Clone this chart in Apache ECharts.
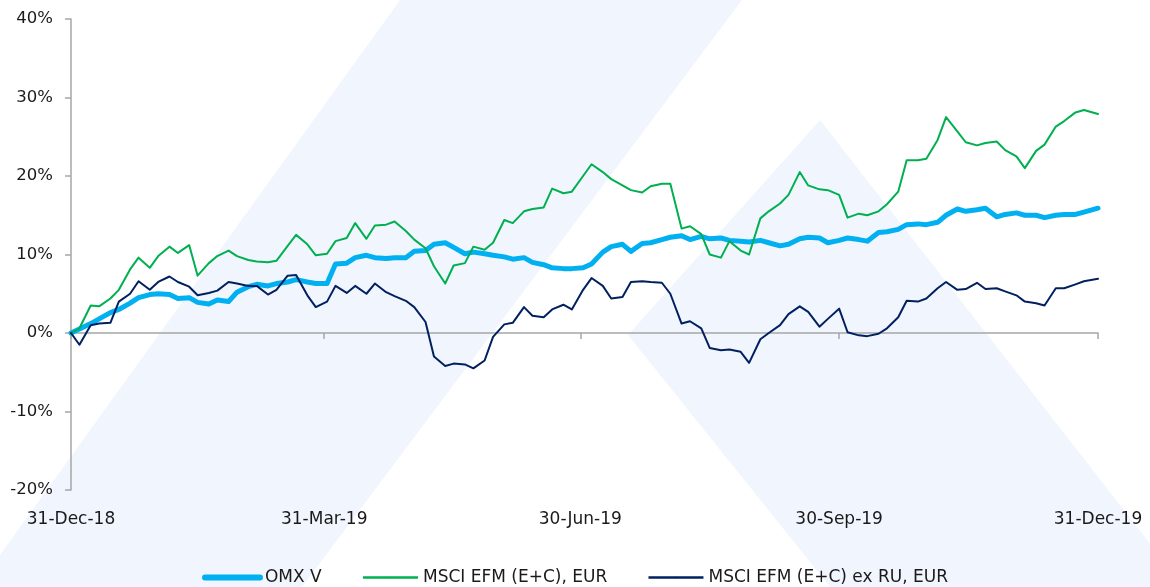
<!DOCTYPE html>
<html>
<head>
<meta charset="utf-8">
<title>OMX V vs MSCI EFM</title>
<script src="https://cdn.jsdelivr.net/npm/echarts@6/dist/echarts.min.js"></script>
<style>
  html, body { margin: 0; padding: 0; background: #fff; }
  #chart { width: 1150px; height: 587px; }
</style>
</head>
<body>
<div id="chart"></div>
<script>
// Observation dates (every 3-4 days through 2019)
const dates = [
  '2018-12-31','2019-01-03','2019-01-07','2019-01-10','2019-01-14','2019-01-17','2019-01-21','2019-01-24','2019-01-28','2019-01-31',
  '2019-02-04','2019-02-07','2019-02-11','2019-02-14','2019-02-18','2019-02-21','2019-02-25','2019-02-28','2019-03-04','2019-03-07',
  '2019-03-11','2019-03-14','2019-03-18','2019-03-21','2019-03-25','2019-03-28','2019-04-01','2019-04-04','2019-04-08','2019-04-11',
  '2019-04-15','2019-04-18','2019-04-22','2019-04-25','2019-04-29','2019-05-02','2019-05-06','2019-05-09','2019-05-13','2019-05-16',
  '2019-05-20','2019-05-23','2019-05-27','2019-05-30','2019-06-03','2019-06-06','2019-06-10','2019-06-13','2019-06-17','2019-06-20',
  '2019-06-24','2019-06-27','2019-07-01','2019-07-04','2019-07-08','2019-07-11','2019-07-15','2019-07-18','2019-07-22','2019-07-25',
  '2019-07-29','2019-08-01','2019-08-05','2019-08-08','2019-08-12','2019-08-15','2019-08-19','2019-08-22','2019-08-26','2019-08-29',
  '2019-09-02','2019-09-05','2019-09-09','2019-09-12','2019-09-16','2019-09-19','2019-09-23','2019-09-26','2019-09-30','2019-10-03',
  '2019-10-07','2019-10-10','2019-10-14','2019-10-17','2019-10-21','2019-10-24','2019-10-28','2019-10-31','2019-11-04','2019-11-07',
  '2019-11-11','2019-11-14','2019-11-18','2019-11-21','2019-11-25','2019-11-28','2019-12-02','2019-12-05','2019-12-09','2019-12-12',
  '2019-12-16','2019-12-19','2019-12-23','2019-12-26','2019-12-31'
];

// Cumulative return, %
const omxV = [
  0, 0.5, 1.2, 1.8, 2.6, 3.0, 3.8, 4.5, 4.9, 5.0,
  4.9, 4.4, 4.5, 3.9, 3.7, 4.2, 4.0, 5.2, 5.9, 6.2,
  6.0, 6.3, 6.5, 6.8, 6.5, 6.3, 6.3, 8.8, 8.9, 9.6,
  9.9, 9.6, 9.5, 9.6, 9.6, 10.4, 10.5, 11.3, 11.5, 10.9,
  10.1, 10.3, 10.1, 9.9, 9.7, 9.4, 9.6, 9.0, 8.7, 8.3,
  8.2, 8.2, 8.3, 8.8, 10.3, 11.0, 11.3, 10.4, 11.4, 11.5,
  11.9, 12.2, 12.4, 11.9, 12.3, 12.0, 12.1, 11.8, 11.7, 11.6,
  11.8, 11.5, 11.1, 11.3, 12.0, 12.2, 12.1, 11.5, 11.8, 12.1,
  11.9, 11.7, 12.8, 12.9, 13.2, 13.8, 13.9, 13.8, 14.1, 15.0,
  15.8, 15.5, 15.7, 15.9, 14.8, 15.1, 15.3, 15.0, 15.0, 14.7,
  15.0, 15.1, 15.1, 15.4, 15.9
];

const msciEfm = [
  0, 0.6, 3.5, 3.4, 4.4, 5.5, 8.1, 9.6, 8.3, 9.8,
  11.0, 10.2, 11.2, 7.3, 8.9, 9.8, 10.5, 9.8, 9.3, 9.1,
  9.0, 9.2, 11.1, 12.5, 11.3, 9.9, 10.1, 11.7, 12.1, 14.0,
  12.0, 13.7, 13.8, 14.2, 13.0, 11.9, 10.8, 8.5, 6.3, 8.6,
  8.9, 11.0, 10.6, 11.5, 14.4, 14.0, 15.5, 15.8, 16.0, 18.4,
  17.8, 18.0, 20.0, 21.5, 20.5, 19.6, 18.8, 18.2, 17.9, 18.7,
  19.0, 19.0, 13.3, 13.6, 12.6, 10.0, 9.6, 11.7, 10.5, 10.0,
  14.6, 15.5, 16.5, 17.6, 20.5, 18.8, 18.3, 18.2, 17.6, 14.7,
  15.2, 15.0, 15.5, 16.4, 18.0, 22.0, 22.0, 22.2, 24.6, 27.5,
  25.7, 24.3, 23.9, 24.2, 24.4, 23.3, 22.5, 21.0, 23.2, 24.0,
  26.3, 27.0, 28.1, 28.4, 27.9
];

const msciEfmExRu = [
  0, -1.5, 1.0, 1.2, 1.3, 4.0, 5.0, 6.6, 5.5, 6.5,
  7.2, 6.5, 5.9, 4.8, 5.1, 5.4, 6.5, 6.3, 6.0, 6.0,
  4.9, 5.5, 7.3, 7.4, 4.8, 3.3, 4.0, 6.0, 5.1, 6.0,
  5.0, 6.3, 5.2, 4.7, 4.1, 3.3, 1.4, -3.0, -4.2, -3.9,
  -4.0, -4.5, -3.5, -0.5, 1.1, 1.3, 3.3, 2.2, 2.0, 3.0,
  3.6, 3.0, 5.5, 7.0, 6.0, 4.4, 4.6, 6.5, 6.6, 6.5,
  6.4, 5.0, 1.2, 1.5, 0.6, -1.9, -2.2, -2.1, -2.4, -3.8,
  -0.8, 0.0, 1.0, 2.4, 3.4, 2.7, 0.8, 1.8, 3.1, 0.1,
  -0.3, -0.4, -0.1, 0.6, 2.0, 4.1, 4.0, 4.4, 5.7, 6.5,
  5.5, 5.6, 6.4, 5.6, 5.7, 5.3, 4.8, 4.0, 3.8, 3.5,
  5.7, 5.7, 6.2, 6.6, 6.9
];

// Quarter-end dates used for x ticks and labels
const quarterEnds = ['2018-12-31', '2019-03-31', '2019-06-30', '2019-09-30', '2019-12-31'];
const seriesNames = ['OMX V', 'MSCI EFM (E+C), EUR', 'MSCI EFM (E+C) ex RU, EUR'];

const MONTHS = ['Jan','Feb','Mar','Apr','May','Jun','Jul','Aug','Sep','Oct','Nov','Dec'];
function toTime(s) {
  const p = s.split('-').map(Number);
  return new Date(p[0], p[1] - 1, p[2]).getTime();
}
function fmtDate(t) {
  const d = new Date(t);
  return d.getDate() + '-' + MONTHS[d.getMonth()] + '-' + String(d.getFullYear()).slice(2);
}
function pairs(values) {
  return dates.map((d, i) => [toTime(d), values[i]]);
}

const FONT = 'DejaVu Sans';
const TEXT = '#1a1a1a';
const AXIS_GREY = '#A6A6A6';
const WATER = '#F1F5FD';
const COLORS = ['#00B0F0', '#00B050', '#002060'];
const WIDTHS = [5, 2, 2];
const quarterTimes = quarterEnds.map(toTime);

const chart = echarts.init(document.getElementById('chart'), null, { renderer: 'canvas' });

chart.setOption({
  animation: false,
  backgroundColor: '#ffffff',
  textStyle: { fontFamily: FONT },
  // faint logo shapes behind the plot
  graphic: [
    {
      type: 'polygon', z: -10, silent: true,
      shape: { points: [[400, 0], [742, 0], [302, 587], [-23, 587]] },
      style: { fill: WATER }
    },
    {
      type: 'polygon', z: -10, silent: true,
      shape: { points: [[820, 120], [1184, 587], [830, 587], [628, 335]] },
      style: { fill: WATER }
    }
  ],
  grid: { left: 71, right: 52, top: 19, bottom: 97, containLabel: false, outerBoundsMode: 'none' },
  legend: {
    bottom: -4,
    left: 'center',
    itemWidth: 55,
    itemHeight: 2,
    itemGap: 40,
    textStyle: { fontFamily: FONT, fontSize: 17, color: TEXT },
    data: seriesNames.map((name, i) => ({
      name,
      lineStyle: { width: i === 0 ? 6 : 2.5, cap: i === 0 ? 'round' : 'butt', color: COLORS[i] }
    }))
  },
  xAxis: {
    type: 'value',
    min: quarterTimes[0],
    max: quarterTimes[quarterTimes.length - 1],
    axisLine: { onZero: true, lineStyle: { color: AXIS_GREY, width: 1.5 } },
    axisTick: {
      show: true, length: 6,
      customValues: quarterTimes,
      lineStyle: { color: AXIS_GREY, width: 1.5 }
    },
    axisLabel: {
      margin: 21,
      customValues: quarterTimes,
      formatter: (v) => fmtDate(v),
      fontFamily: FONT, fontSize: 17, color: TEXT
    },
    splitLine: { show: false }
  },
  yAxis: {
    type: 'value',
    min: -20, max: 40, interval: 10,
    axisLine: { show: true, lineStyle: { color: AXIS_GREY, width: 1.5 } },
    axisTick: { show: true, length: 6, lineStyle: { color: AXIS_GREY, width: 1.5 } },
    axisLabel: {
      margin: 18,
      formatter: '{value}%',
      fontFamily: FONT, fontSize: 16.5, color: TEXT
    },
    splitLine: { show: false }
  },
  series: seriesNames.map((name, i) => ({
    name, type: 'line', symbol: 'none',
    data: pairs([omxV, msciEfm, msciEfmExRu][i]),
    lineStyle: { color: COLORS[i], width: WIDTHS[i], cap: 'round', join: 'round' },
    itemStyle: { color: COLORS[i] }
  }))
});
</script>
</body>
</html>
